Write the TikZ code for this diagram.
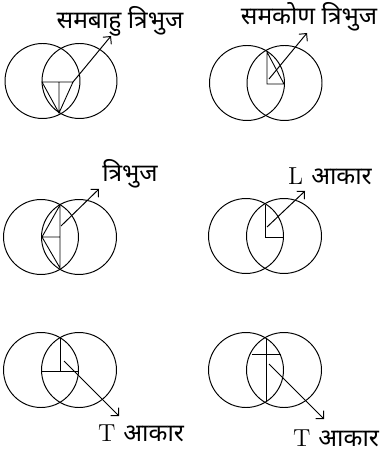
\documentclass[tikz,border=0pt]{standalone}
\usepackage{fontspec}
\newfontfamily\hindi[Script=Devanagari]{Noto Sans}
\usetikzlibrary{arrows.meta}

\begin{document}
\begin{tikzpicture}[x=0.02cm,y=-0.02cm,
    ring/.style={draw,circle,minimum size=1.5cm,inner sep=0pt,line width=0.55pt},
    lbl/.style={font=\fontsize{14}{16}\selectfont,inner sep=0pt},
    shp/.style={line width=0.5pt},
    arr/.style={-{Straight Barb[length=1.1mm,width=2.2mm]},line width=0.55pt}
]
\useasboundingbox (0,0) rectangle (381,455);

% equilateral triangle
\node[ring] (l1) at (42.5,81) {};
\node[ring] (r1) at (79.5,81) {};
\draw[shp] (42,82) -- (73,82) -- (59,113) -- cycle (59,82) -- (59,113);
\coordinate (s1) at (73,82);
\coordinate (e1) at (111,36);
\node[lbl] (t1) at (120,21) {\hindi समबाहु त्रिभुज};
\draw[arr] (s1) -- (e1);

% right triangle
\node[ring] (l2) at (247,83) {};
\node[ring] (r2) at (284.5,83) {};
\draw[shp] (267,52) -- (267,84) -- (284,84) -- cycle;
\coordinate (s2) at (269,79);
\coordinate (e2) at (307,33);
\node[lbl] (t2) at (309,17) {\hindi समकोण त्रिभुज};
\draw[arr] (s2) -- (e2);

% triangle
\node[ring] (l3) at (41,237) {};
\node[ring] (r3) at (79,237) {};
\draw[shp] (60,205) -- (60,268) -- (42,237) -- cycle (42,237) -- (60,237);
\coordinate (s3) at (61,226);
\coordinate (e3) at (99,189);
\node[lbl] (t3) at (130,174) {\hindi त्रिभुज};
\draw[arr] (s3) -- (e3);

% L shape
\node[ring] (l4) at (246,236) {};
\node[ring] (r4) at (284,236) {};
\draw[shp] (265,205) -- (265,237) -- (283,237);
\coordinate (s4) at (267,227);
\coordinate (e4) at (305,191);
\node[lbl] (t4) at (330,176) {L {\hindi आकार}};
\draw[arr] (s4) -- (e4);

% T shape
\node[ring] (l5) at (41,370) {};
\node[ring] (r5) at (79,370) {};
\draw[shp] (60,338) -- (60,371) (42,371) -- (78,371);
\coordinate (s5) at (64,361);
\coordinate (e5) at (119,416);
\node[lbl] (t5) at (141,433) {T {\hindi आकार}};
\draw[arr] (s5) -- (e5);

% T shape
\node[ring] (l6) at (246,370) {};
\node[ring] (r6) at (284,370) {};
\draw[shp] (266,339) -- (266,401) (252,354) -- (281,354);
\coordinate (s6) at (269,364);
\coordinate (e6) at (324,419);
\node[lbl] (t6) at (336,438) {T {\hindi आकार}};
\draw[arr] (s6) -- (e6);
\end{tikzpicture}
\end{document}
